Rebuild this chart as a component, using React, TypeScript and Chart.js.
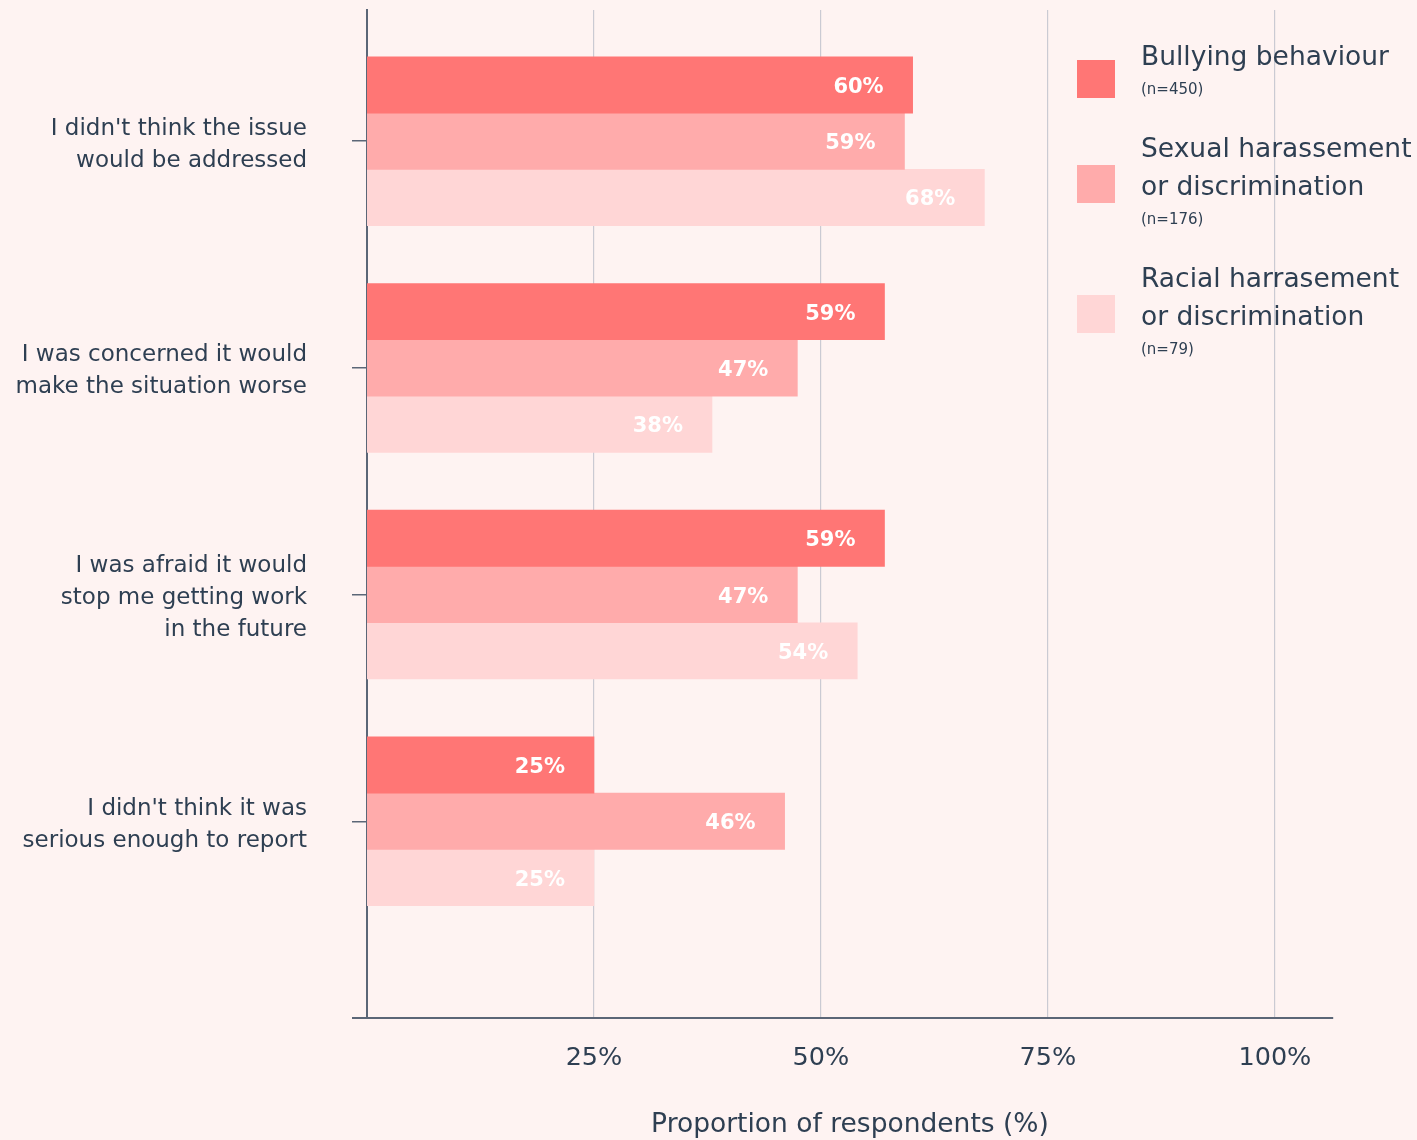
import React, { useEffect, useRef } from 'react';
import { Chart, registerables } from 'chart.js';

Chart.register(...registerables);

const categories: string[][] = [
  ["I didn't think the issue", 'would be addressed'],
  ['I was concerned it would', 'make the situation worse'],
  ['I was afraid it would', 'stop me getting work', 'in the future'],
  ["I didn't think it was", 'serious enough to report'],
];
const seriesNames: string[][] = [
  ['Bullying behaviour'],
  ['Sexual harassement', 'or discrimination'],
  ['Racial harrasement', 'or discrimination'],
];
const sampleSizes = ['(n=450)', '(n=176)', '(n=79)'];

const bullyingValues = [60.1, 57.0, 57.0, 25.0];
const sexualValues = [59.2, 47.4, 47.4, 46.0];
const racialValues = [68.0, 38.0, 54.0, 25.0];

const bullyingLabels = ['60%', '59%', '59%', '25%'];
const sexualLabels = ['59%', '47%', '47%', '46%'];
const racialLabels = ['68%', '38%', '54%', '25%'];

const xTickValues = [25, 50, 75, 100];
const xTickLabels = ['25%', '50%', '75%', '100%'];
const axisTitle = 'Proportion of respondents (%)';

const COLORS = ['#FF7675', '#FFABAB', '#FFD6D6'];
const BG = '#FEF3F2';
const TEXT = '#2E3F52';
const AXIS = '#5B6677';
const GRID = '#CACAD3';
const FONT = '"DejaVu Sans", sans-serif';

const W = 1417;
const H = 1140;

const valueSets = [bullyingValues, sexualValues, racialValues];
const labelSets = [bullyingLabels, sexualLabels, racialLabels];

const bgPlugin = {
  id: 'bg',
  beforeDraw(chart: any) {
    const ctx = chart.ctx;
    ctx.save();
    ctx.fillStyle = BG;
    ctx.fillRect(0, 0, chart.width, chart.height);
    ctx.restore();
  },
};

const extrasPlugin = {
  id: 'extras',
  afterDatasetsDraw(chart: any) {
    const ctx = chart.ctx;
    const area = chart.chartArea;
    ctx.save();
    ctx.strokeStyle = AXIS;
    ctx.lineWidth = 2;
    ctx.beginPath();
    ctx.moveTo(area.left - 15, area.bottom);
    ctx.lineTo(area.left, area.bottom);
    ctx.stroke();
    ctx.fillStyle = '#FFFFFF';
    ctx.font = `bold 21px ${FONT}`;
    ctx.textAlign = 'right';
    ctx.textBaseline = 'middle';
    chart.data.datasets.forEach((ds: any, di: number) => {
      const meta = chart.getDatasetMeta(di);
      meta.data.forEach((el: any, i: number) => {
        ctx.fillText(labelSets[di][i], el.x - 29, el.y + 2.5);
      });
    });
    ctx.restore();
  },
  afterDraw(chart: any) {
    const ctx = chart.ctx;
    const area = chart.chartArea;
    const boxX = area.right - 256;
    const textX = boxX + 64;
    ctx.save();
    let y = 56;
    seriesNames.forEach((lines, i) => {
      ctx.fillStyle = TEXT;
      ctx.textAlign = 'left';
      ctx.textBaseline = 'middle';
      ctx.font = `400 26.5px ${FONT}`;
      lines.forEach((line, li) => {
        ctx.fillText(line, textX, y + 2 + li * 38);
      });
      const lastLine = y + (lines.length - 1) * 38;
      const nY = lastLine + 32;
      ctx.font = `400 15px ${FONT}`;
      ctx.fillText(sampleSizes[i], textX, nY + 2);
      const boxCenter = Math.max(y + 23, (y + nY) / 2 + 1);
      ctx.fillStyle = COLORS[i];
      ctx.fillRect(boxX, boxCenter - 19, 38, 38);
      y = nY + 60;
    });
    ctx.restore();
  },
};

export default function App() {
  const canvasRef = useRef<HTMLCanvasElement | null>(null);

  useEffect(() => {
    document.body.style.margin = '0';
    document.body.style.background = BG;
    const canvas = canvasRef.current;
    if (!canvas) return;
    const chart = new Chart(canvas, {
      type: 'bar',
      data: {
        datasets: valueSets.map((vals, di) => ({
          label: seriesNames[di].join(' '),
          data: vals.map((v, i) => ({ x: v, y: i })),
          backgroundColor: COLORS[di],
          borderWidth: 0,
          barThickness: 56.3,
        })),
      },
      options: {
        indexAxis: 'y',
        responsive: false,
        animation: false,
        devicePixelRatio: 1,
        layout: { padding: { top: 10, right: 84, left: 0, bottom: 0 } },
        plugins: {
          legend: { display: false },
          tooltip: { enabled: false },
          title: { display: false },
        },
        scales: {
          x: {
            type: 'linear',
            position: 'bottom',
            offset: false,
            min: 0,
            max: 106.4,
            afterBuildTicks: (s: any) => {
              s.ticks = xTickValues.map((v) => ({ value: v }));
            },
            afterFit: (s: any) => {
              s.height = 122;
              s.paddingLeft = 0;
              s.paddingRight = 0;
            },
            ticks: {
              autoSkip: false,
              maxRotation: 0,
              padding: 25,
              color: TEXT,
              font: { family: FONT, size: 25.5 },
              callback: (v: any) => xTickLabels[xTickValues.indexOf(Number(v))],
            },
            grid: { color: GRID, lineWidth: 1.2, drawTicks: false, offset: false },
            border: { display: true, color: AXIS, width: 2 },
            title: {
              display: true,
              text: axisTitle,
              color: TEXT,
              font: { family: FONT, size: 26.5, lineHeight: 1.1 },
              padding: { top: 0, bottom: 0 },
            },
          },
          y: {
            type: 'linear',
            position: 'left',
            reverse: true,
            offset: false,
            min: -0.579,
            max: 3.868,
            afterBuildTicks: (s: any) => {
              s.ticks = categories.map((_, i) => ({ value: i }));
            },
            afterFit: (s: any) => {
              s.width = 367;
              s.paddingTop = 0;
              s.paddingBottom = 0;
            },
            ticks: {
              autoSkip: false,
              padding: 45,
              labelOffset: 3.5,
              color: TEXT,
              font: { family: FONT, size: 23, lineHeight: 32 / 23 },
              callback: (v: any) => categories[Number(v)],
            },
            grid: {
              offset: false,
              drawOnChartArea: false,
              drawTicks: true,
              tickLength: 15,
              tickColor: AXIS,
              lineWidth: 1.5,
              color: AXIS,
            },
            border: { display: true, color: AXIS, width: 2 },
          },
        },
      } as any,
      plugins: [bgPlugin, extrasPlugin],
    });
    return () => chart.destroy();
  }, []);

  return (
    <div style={{ width: W, height: H, background: BG }}>
      <canvas ref={canvasRef} width={W} height={H} style={{ display: 'block' }} />
    </div>
  );
}
